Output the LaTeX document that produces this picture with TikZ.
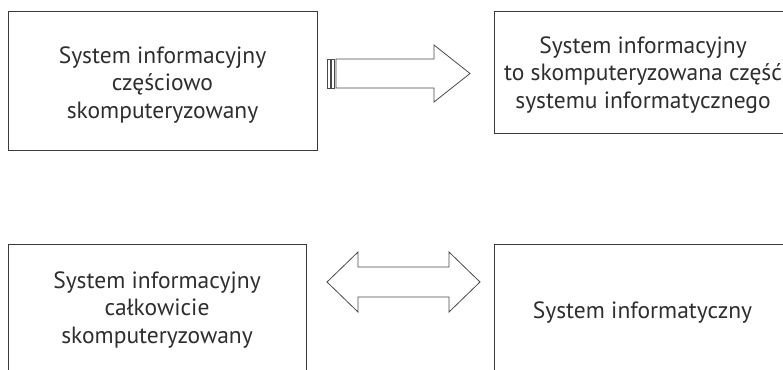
\documentclass[tikz,border=0pt]{standalone}
\usepackage{fontspec}
\setmainfont{PT Sans}
\definecolor{boxgray}{HTML}{3A3A3A}
\definecolor{arrowgray}{HTML}{4A4A4A}
\definecolor{txtgray}{HTML}{2E2E2E}
\begin{document}
\begin{tikzpicture}[x=1pt,y=-1pt,
  box/.style={draw=boxgray, line width=1pt, inner sep=0pt},
  caption/.style={text=txtgray, align=center, inner sep=0pt,
    font=\fontsize{23.5}{27.5}\selectfont},
  blockarrow/.style={draw=arrowgray, line width=0.8pt, fill=white, line join=miter}]
\useasboundingbox (0,0) rectangle (783,369);

% four boxes
\node[box, minimum width=309pt, minimum height=138pt] (partial) at (162.5,81) {};
\node[box, minimum width=298pt, minimum height=121pt] (part)    at (643,72.5) {};
\node[box, minimum width=298pt, minimum height=140pt] (full)    at (157,314) {};
\node[box, minimum width=298pt, minimum height=140pt] (itsys)   at (643,314) {};

% box texts
\node[caption] (partialtxt) at (162.5,84.8) {System informacyjny\\częściowo\\skomputeryzowany};
\node[caption] (parttxt)    at (643,74.8) {System informacyjny\\to skomputeryzowana część\\systemu informatycznego};
\node[caption] (fulltxt)    at (157,309.8) {System informacyjny\\całkowicie\\skomputeryzowany};
\node[caption] (itsystxt)   at (642.5,312.3) {System informatyczny};

% striped block arrow from the upper-left box to the upper-right box
\draw[blockarrow] (327,59) rectangle (330.6,88);
\draw[blockarrow] (331.2,59) rectangle (334.8,88);
\draw[blockarrow] (336,59) -- (434,59) -- (434,45) -- (470,73.5) -- (434,102)
  -- (434,88) -- (336,88) -- cycle;

% double block arrow between the lower boxes
\draw[blockarrow] (327,282) -- (358,252) -- (358,267) -- (449,267) -- (449,252)
  -- (480,282) -- (449,312) -- (449,297) -- (358,297) -- (358,312) -- cycle;
\end{tikzpicture}
\end{document}
